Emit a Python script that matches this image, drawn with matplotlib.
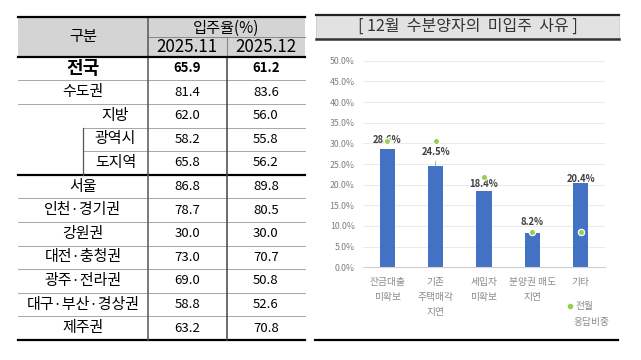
import matplotlib
matplotlib.use("Agg")
import matplotlib.pyplot as plt
import numpy as np

plt.rcParams['font.family'] = ['Noto Sans CJK KR', 'DejaVu Sans']

# table data
regions = ["전국", "수도권", "지방", "광역시", "도지역", "서울", "인천·경기권", "강원권",
           "대전·충청권", "광주·전라권", "대구·부산·경상권", "제주권"]
rate_nov = [65.9, 81.4, 62.0, 58.2, 65.8, 86.8, 78.7, 30.0, 73.0, 69.0, 58.8, 63.2]
rate_dec = [61.2, 83.6, 56.0, 55.8, 56.2, 89.8, 80.5, 30.0, 70.7, 50.8, 52.6, 70.8]
months = ["2025.11", "2025.12"]

# chart data
reasons = ["잔금대출\n미확보", "기존\n주택매각\n지연", "세입자\n미확보", "분양권 매도\n지연", "기타"]
share_dec = [28.6, 24.5, 18.4, 8.2, 20.4]
share_prev = [30.6, 30.6, 21.8, 8.5, 8.5]

W, H = 641, 360
fig = plt.figure(figsize=(W / 100, H / 100), dpi=100)

# ---- table, drawn in pixel coords ----
tx = fig.add_axes([0, 0, 1, 1])
tx.set_xlim(0, W)
tx.set_ylim(H, 0)
tx.axis("off")

x0, x1, x2, x3 = 18, 148, 226.7, 305
xsub = 83
ytop, ymid, yhead = 16.7, 36.7, 56.7
rowh = 23.6

tx.fill_between([x0, x3], ytop, yhead, color="#d4d4d4", lw=0)
tx.text((x0 + x1) / 2, (ytop + yhead) / 2, "구분", ha="center", va="center", fontsize=11)
tx.text((x1 + x3) / 2, (ytop + ymid) / 2 + 1.2, "입주율(%)", ha="center", va="center", fontsize=11)
tx.text((x1 + x2) / 2, (ymid + yhead) / 2 + 0.5, months[0], ha="center", va="center", fontsize=12.2)
tx.text((x2 + x3) / 2, (ymid + yhead) / 2 + 0.5, months[1], ha="center", va="center", fontsize=12.2)

tx.plot([x1, x3], [ymid, ymid], color="#888888", lw=0.7)
tx.plot([x2, x2], [ymid, yhead], color="#888888", lw=0.8)

for i, (name, a, b) in enumerate(zip(regions, rate_nov, rate_dec)):
    yc = yhead + (i + 0.5) * rowh
    bold = (i == 0)
    lx = (xsub + x1) / 2 if i in (2, 3, 4) else (x0 + x1) / 2
    tx.text(lx, yc, name, ha="center", va="center",
            fontsize=13 if bold else 10.8, fontweight="bold" if bold else "normal")
    tx.text((x1 + x2) / 2, yc, "%.1f" % a, ha="center", va="center",
            fontsize=9.5, fontweight="bold" if bold else "normal")
    tx.text((x2 + x3) / 2, yc, "%.1f" % b, ha="center", va="center",
            fontsize=9.5, fontweight="bold" if bold else "normal")
    # bottom border of the row
    yb = yhead + (i + 1) * rowh
    if i in (4, len(regions) - 1):
        tx.plot([x0, x3], [yb, yb], color="black", lw=1.6)
    elif i in (2, 3):
        tx.plot([xsub, x3], [yb, yb], color="#999999", lw=0.6)
    else:
        tx.plot([x0, x3], [yb, yb], color="#999999", lw=0.6)

ybot = yhead + len(regions) * rowh
tx.plot([x1, x1], [ytop, ybot], color="#555555", lw=1.1)
tx.plot([x2, x2], [yhead, ybot], color="#444444", lw=1.1)
tx.plot([xsub, xsub], [yhead + 3 * rowh, yhead + 5 * rowh], color="#555555", lw=0.9)
tx.plot([x0, x3], [ytop, ytop], color="black", lw=1.6)
tx.plot([x0, x3], [yhead, yhead], color="black", lw=1.6)

# ---- right panel frame ----
bx0, bx1, by0, by1 = 316, 619, 15, 38.5
tx.fill_between([bx0, bx1], by0, by1, color="#e2e2e2", lw=0)
tx.plot([bx0, bx0], [by0, by1], color="#cccccc", lw=0.6)
tx.plot([bx1, bx1], [by0, by1], color="#cccccc", lw=0.6)
tx.plot([bx0, bx1], [by0, by0], color="#222222", lw=1.6)
tx.plot([bx0, bx1], [by1, by1], color="#333333", lw=1.8)
tx.text((bx0 + bx1) / 2, (by0 + by1) / 2, "[ 12월  수분양자의  미입주  사유 ]",
        ha="center", va="center", fontsize=11.5, color="#333333")
tx.plot([315, 618], [340, 340], color="black", lw=1.6)

# ---- bar chart ----
ax = fig.add_axes([363 / W, (H - 267.3) / H, 242 / W, 206.6 / H])
xs = np.arange(len(reasons))
ax.bar(xs, share_dec, width=0.31, color="#4472C4", zorder=2)
ax.plot(xs, share_prev, ls="none", marker="o", ms=4.5, color="#92D050",
        mec="white", mew=0.9, zorder=4)

label_off = [6.7, 10, 5, 8, 3]
for i, v in enumerate(share_dec):
    kw = {}
    if i == 1:
        kw["arrowprops"] = dict(arrowstyle="-", color="#a0a0a0", lw=0.6, shrinkA=1, shrinkB=0)
    ax.annotate("%.1f%%" % v, (xs[i], v), xytext=(0, label_off[i]), textcoords="offset points",
                ha="center", va="center", fontsize=6.8, fontweight="bold", color="#404040",
                zorder=3, **kw)

ax.set_xlim(-0.5, len(reasons) - 0.5)
ax.set_ylim(0, 50)
ax.set_yticks(np.arange(0, 50.1, 5))
ax.set_yticklabels(["%.1f%%" % t for t in np.arange(0, 50.1, 5)])
ax.set_xticks(xs)
ax.set_xticklabels(reasons, linespacing=1.6)
ax.tick_params(axis="y", length=0, labelsize=6.3, labelcolor="#7f7f7f", pad=6)
ax.tick_params(axis="x", length=0, labelsize=7, labelcolor="#8a8a8a", pad=7)
ax.grid(axis="y", color="#e6e6e6", lw=0.6, zorder=0)
for s in ("top", "right", "left"):
    ax.spines[s].set_visible(False)
ax.spines["bottom"].set_color("#d0d0d0")
ax.spines["bottom"].set_linewidth(0.8)

# legend for previous month
tx.plot([570], [306], ls="none", marker="o", ms=3, color="#92D050")
tx.text(575, 306, "전월", ha="left", va="center", fontsize=7, color="#8a8a8a")
tx.text(591, 321.7, "응답비중", ha="center", va="center", fontsize=7, color="#8a8a8a")

fig.savefig("out.png", dpi=100)
